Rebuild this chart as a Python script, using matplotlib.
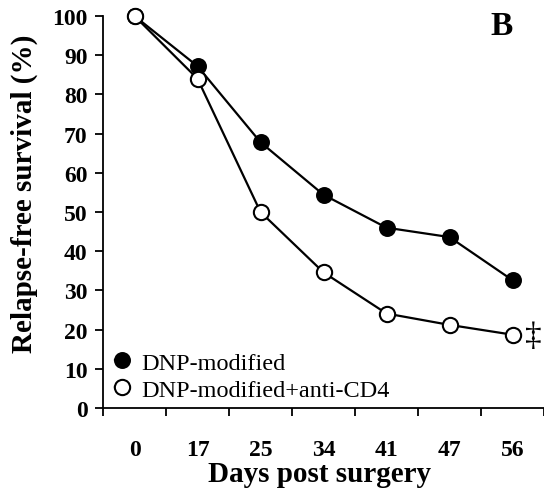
import matplotlib
matplotlib.use("Agg")
import matplotlib.pyplot as plt
import numpy as np

# Relapse-free survival over time for the two treatment groups
days = ["0", "17", "25", "34", "41", "47", "56"]
dnp_modified = [100, 87.2, 67.8, 54.4, 46.0, 43.6, 32.6]
dnp_anti_cd4 = [100, 84.0, 50.0, 34.6, 24.1, 21.2, 18.7]
y_ticks = list(range(0, 101, 10))

plt.rcParams["font.family"] = ["Liberation Serif", "DejaVu Serif"]

fig = plt.figure(figsize=(5.44, 4.89), dpi=100)
ax = fig.add_axes([103 / 544, 80 / 489, 441 / 544, 392 / 489])

x = np.arange(len(days))
ax.plot(x, dnp_modified, color="black", lw=1.6, marker="o", ms=11,
        mfc="black", mec="black", mew=1.2, clip_on=False, zorder=3,
        label="DNP-modified")
ax.plot(x, dnp_anti_cd4, color="black", lw=1.6, marker="o", ms=11,
        mfc="white", mec="black", mew=1.5, clip_on=False, zorder=4,
        label="DNP-modified+anti-CD4")

ax.set_xlim(-0.5, len(days) - 0.5)
ax.set_ylim(0, 100)

# category labels sit under the points, ticks fall between categories
ax.set_xticks(np.arange(-0.5, len(days) + 0.5, 1))
ax.set_xticklabels([])
ax.set_xticks(x, minor=True)
ax.set_xticklabels(days, minor=True, fontsize=17, fontweight="bold")
ax.tick_params(axis="x", which="minor", length=0, pad=22)
ax.tick_params(axis="x", which="major", length=6, width=1.3, direction="out")

ax.set_yticks(y_ticks)
ax.set_yticklabels([str(v) for v in y_ticks], fontsize=17, fontweight="bold")
ax.tick_params(axis="y", length=6, width=1.3, direction="out", pad=5)

for side in ("top", "right"):
    ax.spines[side].set_visible(False)
for side in ("left", "bottom"):
    ax.spines[side].set_linewidth(1.3)

ax.set_xlabel("Days post surgery", fontsize=21, fontweight="bold")
ax.xaxis.set_label_coords(0.49, -0.132)
ax.set_ylabel("Relapse-free survival (%)", fontsize=21, fontweight="bold")
ax.yaxis.set_label_coords(-0.148, 0.55)

ax.legend(loc="lower left", bbox_to_anchor=(0.01, 0.0), frameon=False,
          fontsize=17.5, handlelength=0.6, handletextpad=0.5,
          labelspacing=0.2, borderaxespad=0.2, borderpad=0.1)

ax.text(5.82, 101.5, "B", fontsize=24, fontweight="bold", ha="center",
        va="top")
ax.text(6.33, 18.4, "\u2021", fontsize=24, ha="center", va="center")

fig.savefig("out.png", dpi=100)
